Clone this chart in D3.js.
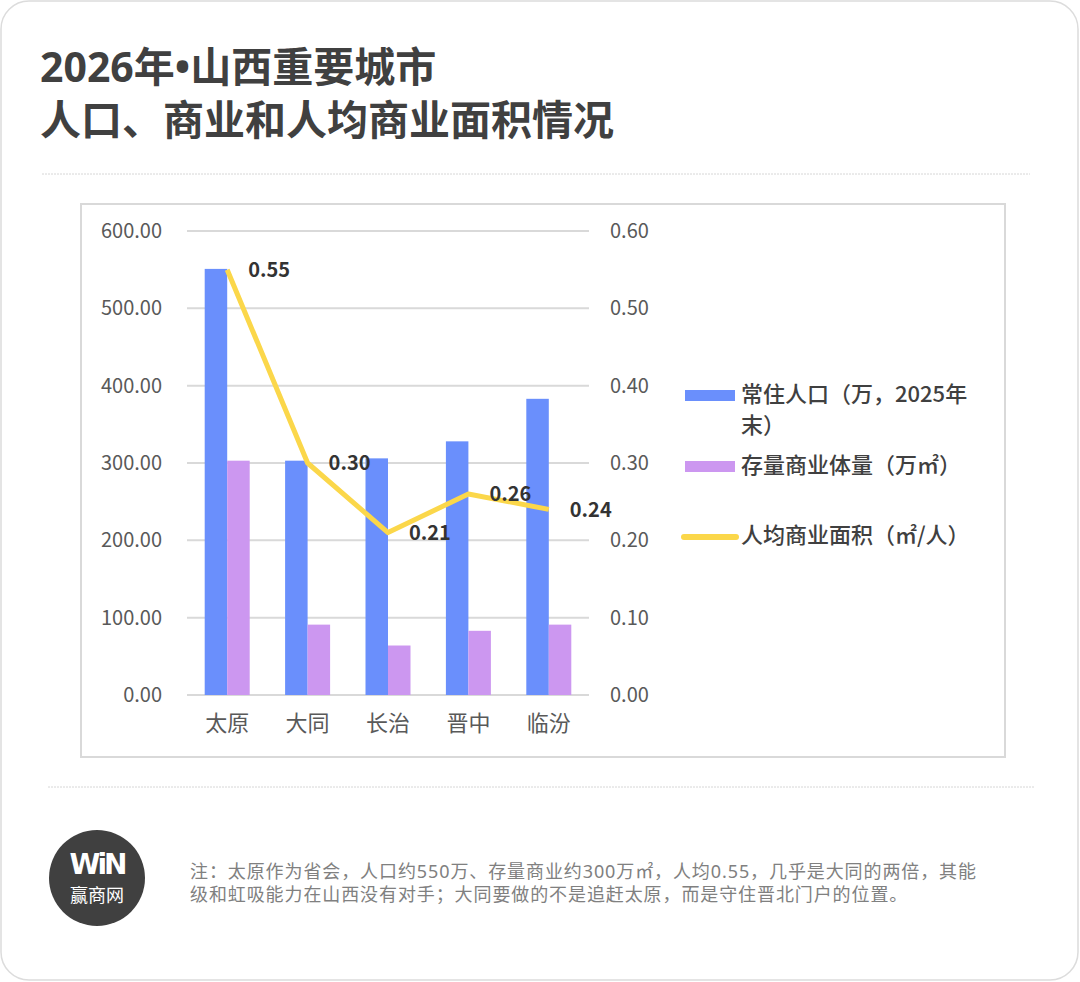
<!DOCTYPE html>
<html>
<head>
<meta charset="utf-8">
<script src="https://cdn.jsdelivr.net/npm/d3@7"></script>
<style>
  body { margin: 0; background: #fff; }
  svg text { font-family: "Noto Sans CJK SC", "Noto Sans", sans-serif; }
</style>
</head>
<body>
<svg id="chart" width="1080" height="982"></svg>
<script>
/* data */
const cities = ['太原', '大同', '长治', '晋中', '临汾'];
const population = [551, 303, 306, 328, 383];      // 常住人口（万，2025年末）
const commercial = [303, 91, 64, 83, 91];          // 存量商业体量（万㎡）
const perCapita = [0.55, 0.30, 0.21, 0.26, 0.24];  // 人均商业面积（㎡/人）
const leftTicks = [0, 100, 200, 300, 400, 500, 600];
const rightTicks = [0, 0.1, 0.2, 0.3, 0.4, 0.5, 0.6];

const colors = {
    blue: '#6a8ffc',
    purple: '#cc97f0',
    yellow: '#fbd74a',
    grid: '#d9d9d9',
    axisText: '#595959',
    title: '#404040'
};
// latin font first: narrower bullet and tighter line boxes, CJK falls back
const latinFirst = '"Noto Sans", "Noto Sans CJK SC", sans-serif';

const svg = d3.select('#chart');

// card + frame
svg.append('rect')
    .attr('x', 1).attr('y', 1)
    .attr('width', 1077).attr('height', 979)
    .attr('rx', 28)
    .attr('fill', '#fff')
    .attr('stroke', '#dcdcdc')
    .attr('stroke-width', 1.5);

svg.append('text')
    .attr('x', 40).attr('y', 82)
    .attr('font-size', 41).attr('font-weight', 'bold')
    .attr('fill', colors.title)
    .style('font-family', latinFirst)
    .text('2026年•山西重要城市');
svg.append('text')
    .attr('x', 40).attr('y', 135)
    .attr('font-size', 41).attr('font-weight', 'bold')
    .attr('fill', colors.title)
    .style('font-family', latinFirst)
    .text('人口、商业和人均商业面积情况');

svg.append('line')
    .attr('x1', 42).attr('x2', 1030).attr('y1', 174).attr('y2', 174)
    .attr('stroke', '#d6d6d6').attr('stroke-dasharray', '2,1');

svg.append('rect')
    .attr('x', 81).attr('y', 204)
    .attr('width', 924).attr('height', 553)
    .attr('fill', 'none')
    .attr('stroke', '#d9d9d9')
    .attr('stroke-width', 2);

/* scales */
const plot = {left: 187, right: 589, top: 231, bottom: 695};
const x = d3.scaleBand().domain(cities).range([plot.left, plot.right]);
const groupWidth = 45;
const x1 = d3.scaleBand().domain(['pop', 'com']).range([0, groupWidth]);
const yLeft = d3.scaleLinear().domain([0, 600]).range([plot.bottom, plot.top]);
const yRight = d3.scaleLinear().domain([0, 0.6]).range([plot.bottom, plot.top]);
const cx = c => x(c) + x.bandwidth() / 2;
const bx = (c, s) => x(c) + (x.bandwidth() - groupWidth) / 2 + x1(s);

// gridlines
svg.append('g')
    .selectAll('line')
    .data(leftTicks)
    .join('line')
    .attr('x1', plot.left).attr('x2', plot.right)
    .attr('y1', d => yLeft(d)).attr('y2', d => yLeft(d))
    .attr('stroke', colors.grid)
    .attr('stroke-width', 2);

// left axis
const leftAxis = svg.append('g')
    .attr('transform', `translate(${plot.left},0)`)
    .call(d3.axisLeft(yLeft).tickValues(leftTicks).tickFormat(d3.format('.2f')).tickSize(0).tickPadding(25));
leftAxis.select('.domain').remove();
leftAxis.selectAll('text')
    .attr('font-size', 20).attr('fill', colors.axisText)
    .style('font-family', '"Noto Sans CJK SC", sans-serif');

// right axis
const rightAxis = svg.append('g')
    .attr('transform', `translate(${plot.right},0)`)
    .call(d3.axisRight(yRight).tickValues(rightTicks).tickFormat(d3.format('.2f')).tickSize(0).tickPadding(21));
rightAxis.select('.domain').remove();
rightAxis.selectAll('text')
    .attr('font-size', 20).attr('fill', colors.axisText)
    .style('font-family', '"Noto Sans CJK SC", sans-serif');

// category axis
const bottomAxis = svg.append('g')
    .attr('transform', `translate(0,${plot.bottom})`)
    .call(d3.axisBottom(x).tickSize(0).tickPadding(20));
bottomAxis.select('.domain').remove();
bottomAxis.selectAll('text')
    .attr('font-size', 22).attr('fill', colors.axisText)
    .style('font-family', '"Noto Sans CJK SC", sans-serif');

// bars
svg.append('g')
    .selectAll('rect')
    .data(cities)
    .join('rect')
    .attr('x', c => bx(c, 'pop'))
    .attr('y', (c, i) => yLeft(population[i]))
    .attr('width', x1.bandwidth())
    .attr('height', (c, i) => plot.bottom - yLeft(population[i]))
    .attr('fill', colors.blue);

svg.append('g')
    .selectAll('rect')
    .data(cities)
    .join('rect')
    .attr('x', c => bx(c, 'com'))
    .attr('y', (c, i) => yLeft(commercial[i]))
    .attr('width', x1.bandwidth())
    .attr('height', (c, i) => plot.bottom - yLeft(commercial[i]))
    .attr('fill', colors.purple);

// per-capita line
const line = d3.line()
    .x((d, i) => cx(cities[i]))
    .y(d => yRight(d));
svg.append('path')
    .datum(perCapita)
    .attr('d', line)
    .attr('fill', 'none')
    .attr('stroke', colors.yellow)
    .attr('stroke-width', 5)
    .attr('stroke-linejoin', 'round');

svg.append('g')
    .selectAll('text')
    .data(perCapita)
    .join('text')
    .attr('x', (d, i) => cx(cities[i]) + 21)
    .attr('y', d => yRight(d) + 2)
    .attr('dominant-baseline', 'middle')
    .attr('font-size', 20).attr('font-weight', 'bold')
    .attr('fill', '#333')
    .text(d => d.toFixed(2));

/* legend */
const legendFont = 22;
const legend = svg.append('g');
legend.append('rect')
    .attr('x', 685).attr('y', 390).attr('width', 50).attr('height', 11)
    .attr('fill', colors.blue);
legend.append('text')
    .attr('x', 741).attr('y', 396).attr('dominant-baseline', 'middle')
    .attr('font-size', legendFont).attr('font-weight', 500).attr('fill', '#404040')
    .text('常住人口（万，2025年');
legend.append('text')
    .attr('x', 741).attr('y', 427).attr('dominant-baseline', 'middle')
    .attr('font-size', legendFont).attr('font-weight', 500).attr('fill', '#404040')
    .text('末）');
legend.append('rect')
    .attr('x', 685).attr('y', 461).attr('width', 50).attr('height', 11)
    .attr('fill', colors.purple);
legend.append('text')
    .attr('x', 741).attr('y', 467).attr('dominant-baseline', 'middle')
    .attr('font-size', legendFont).attr('font-weight', 500).attr('fill', '#404040')
    .text('存量商业体量（万㎡）');
legend.append('line')
    .attr('x1', 684).attr('x2', 736).attr('y1', 537).attr('y2', 537)
    .attr('stroke', colors.yellow).attr('stroke-width', 6).attr('stroke-linecap', 'round');
legend.append('text')
    .attr('x', 741).attr('y', 537).attr('dominant-baseline', 'middle')
    .attr('font-size', legendFont).attr('font-weight', 500).attr('fill', '#404040')
    .text('人均商业面积（㎡/人）');

/* footer */
svg.append('line')
    .attr('x1', 48).attr('x2', 1035).attr('y1', 787).attr('y2', 787)
    .attr('stroke', '#d6d6d6').attr('stroke-dasharray', '2,1');

const logo = svg.append('g').attr('transform', 'translate(97,878)');
logo.append('circle').attr('r', 48).attr('fill', '#404040');
logo.append('text')
    .attr('x', 0).attr('y', -4)
    .attr('text-anchor', 'middle')
    .attr('font-size', 28).attr('font-weight', 'bold')
    .attr('letter-spacing', -3)
    .attr('fill', '#fff')
    .style('font-family', '"DejaVu Sans", sans-serif')
    .text('WiN');
logo.append('text')
    .attr('x', 0).attr('y', 24)
    .attr('text-anchor', 'middle')
    .attr('font-size', 18)
    .attr('fill', '#fff')
    .style('font-family', latinFirst)
    .text('赢商网');

const notes = [
    '注：太原作为省会，人口约550万、存量商业约300万㎡，人均0.55，几乎是大同的两倍，其能',
    '级和虹吸能力在山西没有对手；大同要做的不是追赶太原，而是守住晋北门户的位置。'
];
svg.append('g')
    .selectAll('text')
    .data(notes)
    .join('text')
    .attr('x', 190)
    .attr('y', (d, i) => 878 + i * 23)
    .attr('font-size', 18)
    .attr('letter-spacing', 0.9)
    .attr('fill', '#808080')
    .style('font-family', latinFirst)
    .text(d => d);
</script>
</body>
</html>
